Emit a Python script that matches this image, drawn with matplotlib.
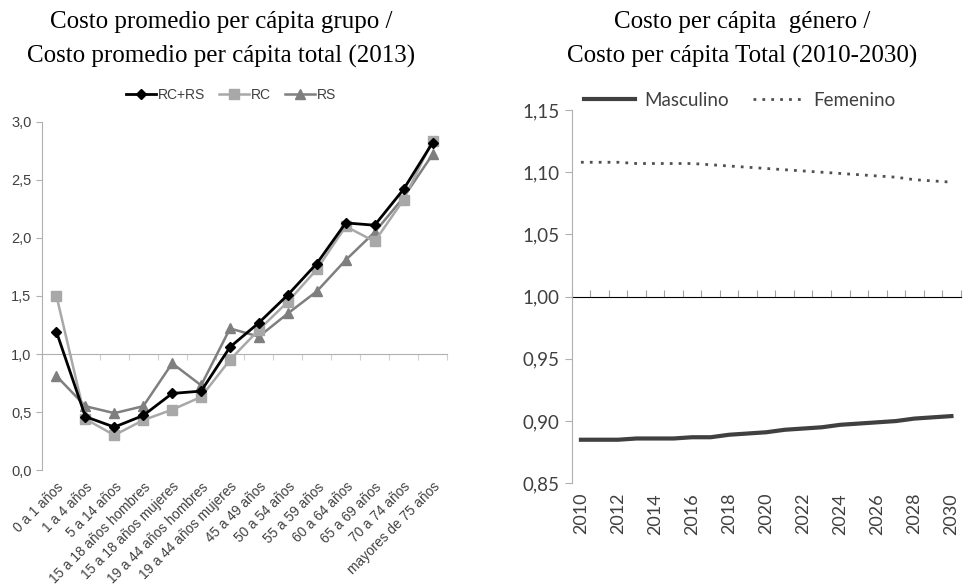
import numpy as np
import matplotlib
matplotlib.use("Agg")
import matplotlib.pyplot as plt
from matplotlib.ticker import FuncFormatter

# left panel: cost per group / total cost (2013)
grupos = [
    "0 a 1 años",
    "1 a 4 años",
    "5 a 14 años",
    "15 a 18 años hombres",
    "15 a 18 años mujeres",
    "19 a 44 años hombres",
    "19 a 44 años mujeres",
    "45 a 49 años",
    "50 a 54 años",
    "55 a 59 años",
    "60 a 64 años",
    "65 a 69 años",
    "70 a 74 años",
    "mayores de 75 años",
]
rc_rs = [1.19, 0.46, 0.37, 0.47, 0.66, 0.68, 1.06, 1.27, 1.51, 1.78, 2.13, 2.11, 2.42, 2.82]
rc = [1.50, 0.44, 0.30, 0.43, 0.52, 0.63, 0.95, 1.21, 1.45, 1.73, 2.10, 1.97, 2.33, 2.84]
rs = [0.81, 0.55, 0.49, 0.55, 0.92, 0.73, 1.22, 1.15, 1.35, 1.54, 1.81, 2.05, 2.35, 2.72]

# right panel: cost per gender / total cost (2010-2030)
anios = list(range(2010, 2031))
masculino = [0.885, 0.885, 0.885, 0.886, 0.886, 0.886, 0.887, 0.887, 0.889, 0.890, 0.891,
             0.893, 0.894, 0.895, 0.897, 0.898, 0.899, 0.900, 0.902, 0.903, 0.904]
femenino = [1.108, 1.108, 1.108, 1.107, 1.107, 1.107, 1.107, 1.106, 1.105, 1.104, 1.103,
            1.102, 1.101, 1.100, 1.099, 1.098, 1.097, 1.096, 1.094, 1.093, 1.092]

axis_gray = "#b0b0b0"
text_gray = "#404040"

fig = plt.figure(figsize=(9.66, 5.87), dpi=100)

# ---- left chart ----
ax1 = fig.add_axes([0.0435, 0.1993, 0.4192, 0.5929])
x1 = np.arange(len(grupos))

ax1.plot(x1, rs, color="#7f7f7f", marker="^", markersize=7.5, linewidth=1.8, label="RS", zorder=3)
ax1.plot(x1, rc, color="#a8a8a8", marker="s", markersize=7.5, linewidth=1.8, label="RC", zorder=4)
ax1.plot(x1, rc_rs, color="black", marker="D", markersize=5.5, linewidth=2, label="RC+RS", zorder=5)

ax1.set_xlim(-0.5, len(grupos) - 0.5)
ax1.set_ylim(0, 3)
ax1.set_yticks(np.arange(0, 3.01, 0.5))
ax1.yaxis.set_major_formatter(FuncFormatter(lambda v, p: f"{v:.1f}".replace(".", ",")))
ax1.set_xticks(x1)
ax1.set_xticklabels(grupos, rotation=45, ha="right", rotation_mode="anchor")
ax1.tick_params(axis="x", length=0, pad=7, labelsize=9.8, labelcolor=text_gray)
ax1.tick_params(axis="y", length=4, color=axis_gray, labelsize=10.5, labelcolor=text_gray)
for lab in ax1.get_xticklabels() + ax1.get_yticklabels():
    lab.set_family("Liberation Sans")
for s in ["top", "right", "bottom"]:
    ax1.spines[s].set_visible(False)
ax1.spines["left"].set_color(axis_gray)

# category axis crossing at 1,0
sec1 = ax1.secondary_xaxis(1 / 3)
sec1.set_xticks(np.arange(-0.5, len(grupos), 1))
sec1.set_xticklabels([])
sec1.tick_params(length=4, color="#d0d0d0")
sec1.spines["bottom"].set_color(axis_gray)

handles, labels = ax1.get_legend_handles_labels()
order = [2, 1, 0]
ax1.legend(
    [handles[i] for i in order],
    [labels[i] for i in order],
    loc="center",
    bbox_to_anchor=(0.239, 1 - 95 / 587),
    bbox_transform=fig.transFigure,
    ncol=3,
    frameon=False,
    handlelength=2.2,
    handletextpad=0.1,
    columnspacing=1.0,
    prop={"family": "Liberation Sans", "size": 10},
    labelcolor=text_gray,
)

# ---- right chart ----
ax2 = fig.add_axes([0.5918, 0.1767, 0.4027, 0.6359])
x2 = np.arange(len(anios))

ax2.plot(x2, masculino, color="#404040", linewidth=3, label="Masculino")
ax2.plot(x2, femenino, color="#505050", linewidth=2, linestyle=(0, (1, 2.2)), label="Femenino")

ax2.set_xlim(-0.5, len(anios) - 0.5)
ax2.set_ylim(0.85, 1.15)
ax2.set_yticks(np.arange(0.85, 1.151, 0.05))
ax2.yaxis.set_major_formatter(FuncFormatter(lambda v, p: f"{v:.2f}".replace(".", ",")))
ax2.set_xticks(x2[::2])
ax2.set_xticklabels([str(a) for a in anios[::2]], rotation=90)
ax2.tick_params(axis="x", length=0, pad=7, labelsize=13, labelcolor=text_gray)
ax2.tick_params(axis="y", length=5, color=axis_gray, labelsize=13.5, labelcolor=text_gray)
for lab in ax2.get_xticklabels() + ax2.get_yticklabels():
    lab.set_family("Lato")
for s in ["top", "right", "bottom"]:
    ax2.spines[s].set_visible(False)
ax2.spines["left"].set_color(axis_gray)

sec2 = ax2.secondary_xaxis(0.5)
sec2.set_xticks(np.arange(-0.5, len(anios), 1))
sec2.set_xticklabels([])
sec2.tick_params(length=5, color="#a0a0a0")
sec2.spines["bottom"].set_color(axis_gray)

ax2.legend(
    loc="center",
    bbox_to_anchor=(740 / 966, 1 - 100 / 587),
    bbox_transform=fig.transFigure,
    ncol=2,
    frameon=False,
    handlelength=2.7,
    handletextpad=0.5,
    columnspacing=1.3,
    prop={"family": "Lato", "size": 13.5},
    labelcolor=text_gray,
)

# titles
fig.text(221 / 966, 1 - 28 / 587, "Costo promedio per cápita grupo /", ha="center", va="baseline",
         family="Liberation Serif", fontsize=18)
fig.text(221 / 966, 1 - 63 / 587, "Costo promedio per cápita total (2013)", ha="center", va="baseline",
         family="Liberation Serif", fontsize=18)
fig.text(742 / 966, 1 - 28 / 587, "Costo per cápita  género /", ha="center", va="baseline",
         family="Liberation Serif", fontsize=18)
fig.text(742 / 966, 1 - 63 / 587, "Costo per cápita Total (2010-2030)", ha="center", va="baseline",
         family="Liberation Serif", fontsize=18)

fig.savefig("out.png", dpi=100)
